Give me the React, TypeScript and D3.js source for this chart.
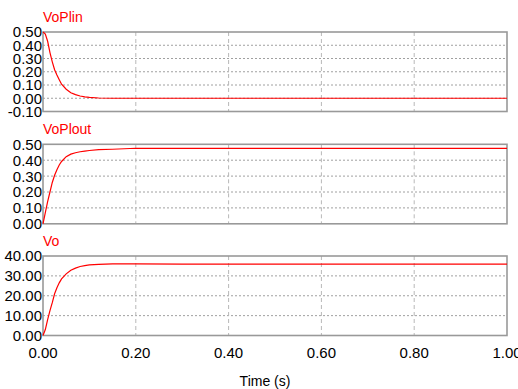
import React from "react";
import * as d3 from "d3";

const time = [0, 0.005, 0.01, 0.015, 0.02, 0.025, 0.03, 0.035, 0.04, 0.05, 0.06, 0.07, 0.08, 0.09, 0.1, 0.12, 0.15, 0.2, 0.3, 0.5, 0.7, 1.0];
const voPlin = [0.5, 0.485, 0.43, 0.345, 0.275, 0.215, 0.175, 0.14, 0.106, 0.068, 0.042, 0.027, 0.017, 0.01, 0.006, 0.002, 0, 0, 0, 0, 0, 0];
const voPlout = [0, 0.07, 0.14, 0.2, 0.26, 0.305, 0.34, 0.37, 0.392, 0.422, 0.438, 0.447, 0.453, 0.457, 0.461, 0.466, 0.469, 0.475, 0.475, 0.475, 0.475, 0.475];
const vo = [0, 3, 8, 12.5, 16.5, 21, 24, 26.5, 28.5, 31, 32.8, 33.9, 34.7, 35.2, 35.5, 35.8, 36, 36, 35.9, 35.9, 35.9, 35.9];

const xTicks = [0, 0.2, 0.4, 0.6, 0.8, 1.0];
const panels = [
  { title: "VoPlin", values: voPlin, domain: [-0.1, 0.5], ticks: [0.5, 0.4, 0.3, 0.2, 0.1, 0, -0.1], top: 32 },
  { title: "VoPlout", values: voPlout, domain: [0, 0.5], ticks: [0.5, 0.4, 0.3, 0.2, 0.1, 0], top: 144.3 },
  { title: "Vo", values: vo, domain: [0, 40], ticks: [40, 30, 20, 10, 0], top: 256 },
];

const left = 43;
const right = 507;
const panelH = 79.5;
const font = "Arial, 'Liberation Sans', sans-serif";
const gridColor = "#a0a0a0";

export default function App() {
  const x = d3.scaleLinear().domain([0, 1]).range([left, right]);

  return (
    <svg width={518} height={389} style={{ position: "absolute", left: 0, top: 0, background: "#fff" }}>
      {panels.map((p) => {
        const y = d3.scaleLinear().domain(p.domain).range([p.top + panelH, p.top]);
        const line = d3.line<number>().x((_, i) => x(time[i])).y((v) => y(v));
        const [lo, hi] = p.domain;
        return (
          <g key={p.title}>
            <text x={left} y={p.top - 10} fill="#ff0000" fontFamily={font} fontSize={14}>
              {p.title}
            </text>
            {p.ticks.filter((t) => t !== lo && t !== hi).map((t) => (
              <line key={"h" + t} x1={left} x2={right} y1={y(t)} y2={y(t)} stroke={gridColor} strokeDasharray="2,2" />
            ))}
            {xTicks.filter((t) => t !== 0 && t !== 1).map((t) => (
              <line key={"v" + t} x1={x(t)} x2={x(t)} y1={p.top} y2={p.top + panelH} stroke="#b8b8b8" strokeDasharray="4,3" />
            ))}
            <rect x={left} y={p.top} width={right - left} height={panelH} fill="none" stroke="#999" strokeWidth={1.6} />
            <path d={line(p.values) || ""} fill="none" stroke="#ff0000" strokeWidth={1.2} />
            {p.ticks.map((t) => (
              <text key={"l" + t} x={42} y={y(t)} dy="0.36em" textAnchor="end" fontFamily={font} fontSize={15} fill="#000">
                {t.toFixed(2)}
              </text>
            ))}
          </g>
        );
      })}
      {xTicks.map((t) => (
        <text key={"x" + t} x={x(t)} y={358} textAnchor="middle" fontFamily={font} fontSize={15} fill="#000">
          {t.toFixed(2)}
        </text>
      ))}
      <text x={265} y={386} textAnchor="middle" fontFamily={font} fontSize={14} fill="#000">
        Time (s)
      </text>
    </svg>
  );
}
